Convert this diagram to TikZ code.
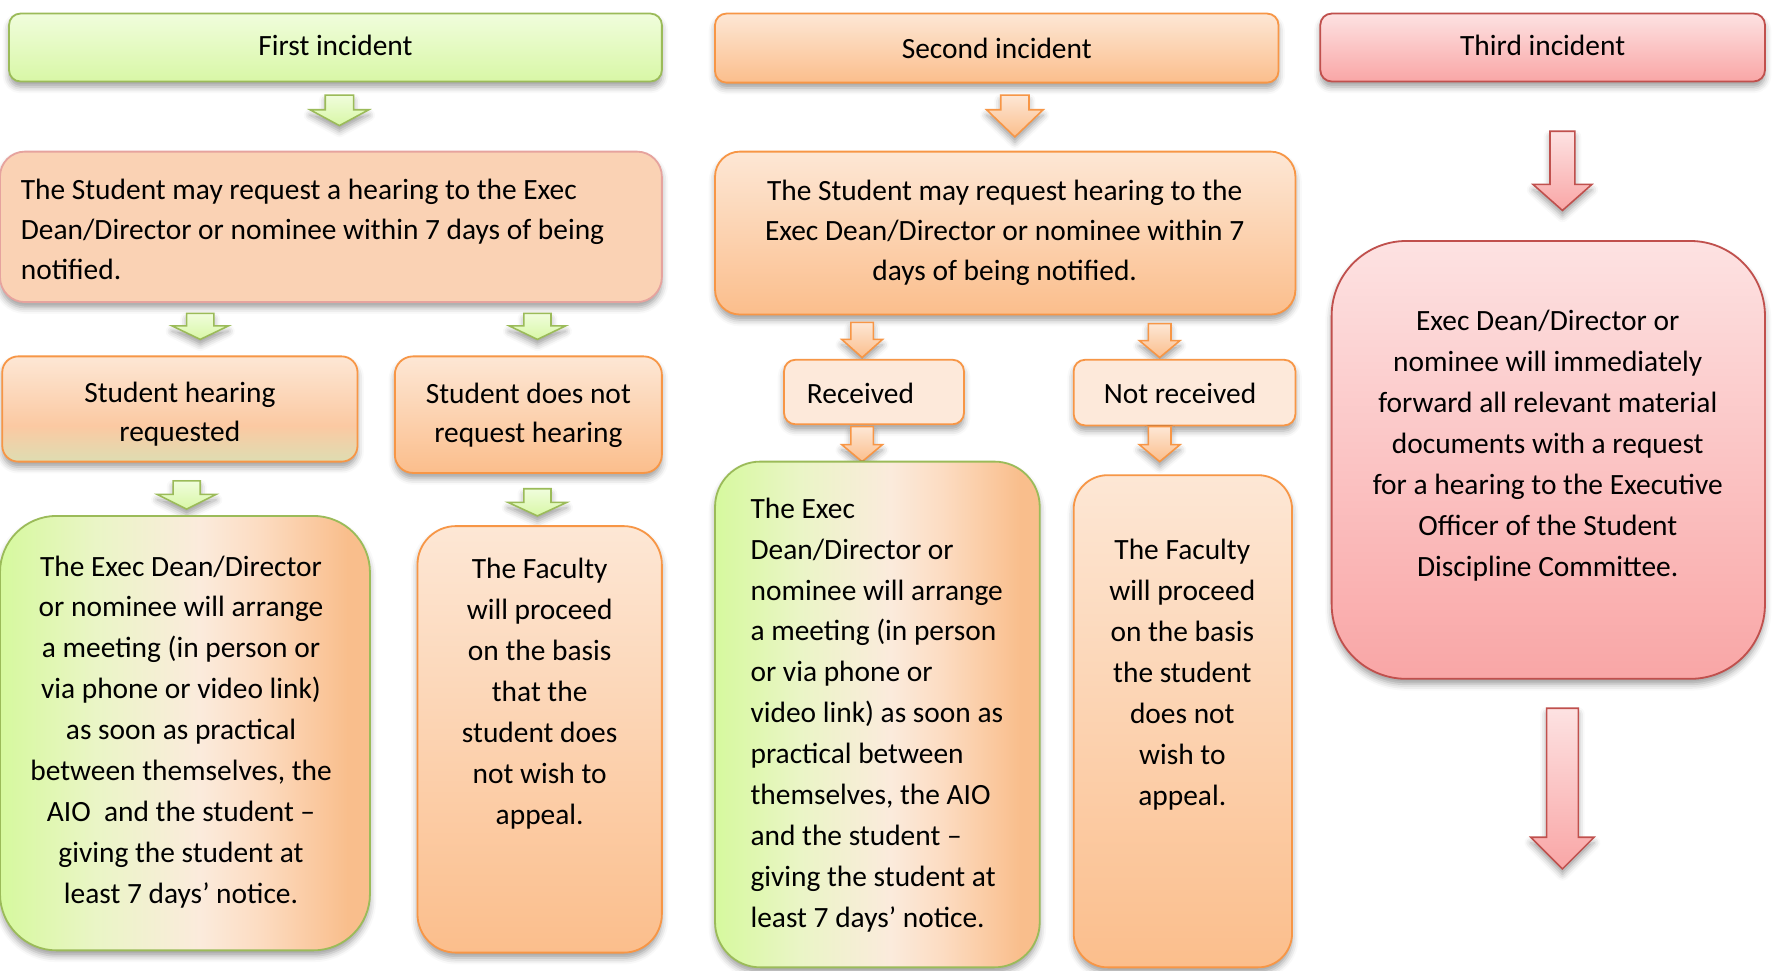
\documentclass[tikz,border=0pt]{standalone}
\usepackage{fontspec}
\setmainfont{Carlito}
\usetikzlibrary{fit,shadows.blur}

% palette
\definecolor{grnLine}{HTML}{9BBB59}
\definecolor{grnTop}{HTML}{F0FDDC}
\definecolor{grnBot}{HTML}{D8F7A6}
\definecolor{ornLine}{HTML}{F79646}
\definecolor{ornTop}{HTML}{FDE7D5}
\definecolor{ornBot}{HTML}{FBBE8C}
\definecolor{ornPale}{HTML}{FDE9DA}
\definecolor{redLine}{HTML}{C0504D}
\definecolor{redTop}{HTML}{FDE2E2}
\definecolor{redBot}{HTML}{F9A6A6}
\definecolor{peach}{HTML}{FAD2B4}
\definecolor{peachLine}{HTML}{E6A39E}
\definecolor{mixGreen}{HTML}{D6F99E}
\definecolor{mixPale}{HTML}{EAF5C6}
\definecolor{mixCream}{HTML}{FBEBDC}
\definecolor{mixPeach}{HTML}{FCDCC2}
\definecolor{mixOrange}{HTML}{F9BE8C}
\definecolor{reqMid}{HTML}{FBC9A2}
\definecolor{reqBot}{HTML}{DEDDB2}

% green-to-orange sweep (fitted between 25bp and 75bp)
\pgfdeclarehorizontalshading{greenorange}{100bp}{%
  color(0bp)=(mixGreen); color(25bp)=(mixGreen); color(38bp)=(mixPale);
  color(52bp)=(mixCream); color(60bp)=(mixPeach); color(72bp)=(mixOrange);
  color(100bp)=(mixOrange)}
% orange fading to a green tint at the bottom
\pgfdeclareverticalshading{reqshade}{100bp}{%
  color(0bp)=(reqBot); color(25bp)=(reqBot); color(42bp)=(reqMid);
  color(75bp)=(ornTop); color(100bp)=(ornTop)}

\tikzset{
  shad/.style={blur shadow={shadow xshift=0pt, shadow yshift=-2.4pt,
      shadow blur radius=2.8pt, shadow opacity=38}},
  box/.style={draw, line width=0.8pt, inner sep=0pt, shad},
  greenhdr/.style={box, draw=grnLine, top color=grnTop, bottom color=grnBot, rounded corners=5pt},
  orangebox/.style={box, draw=ornLine, top color=ornTop, bottom color=ornBot},
  redbox/.style={box, draw=redLine, top color=redTop, bottom color=redBot},
  palebox/.style={box, draw=ornLine, fill=ornPale, rounded corners=5pt},
  peachbox/.style={box, draw=peachLine, fill=peach},
  mixbox/.style={box, draw=grnLine, shading=greenorange},
  reqbox/.style={box, draw=ornLine, shading=reqshade},
  txt/.style={inner sep=0pt, font=\fontsize{13}{17.6}\selectfont},
  tall/.style={inner sep=0pt, font=\fontsize{13}{18.1}\selectfont},
  greenarrow/.style={draw=grnLine, line width=0.7pt, top color=grnTop, bottom color=grnBot, line join=miter, shad},
  orangearrow/.style={draw=ornLine, line width=0.7pt, top color=ornTop, bottom color=ornBot, line join=miter, shad},
  redarrow/.style={draw=redLine, line width=0.7pt, top color=redTop, bottom color=redBot, line join=miter, shad},
}

% block arrow: style, x, top, head start, tip, shaft half width, head half width
\newcommand\blockarrow[7]{%
  \path[#1] (#2-#6,#3) -- (#2+#6,#3) -- (#2+#6,#4) -- (#2+#7,#4) -- (#2,#5)
    -- (#2-#7,#4) -- (#2-#6,#4) -- cycle;}

\begin{document}
\begin{tikzpicture}[x=0.5pt,y=-0.5pt]
\useasboundingbox (0,0) rectangle (1568,858);

% ---------- first incident ----------
\node[greenhdr, fit={(8,12)(585,72)}] (h1) {};
\node[txt] (h1t) at ([yshift=1pt]h1.center) {First incident};
\blockarrow{greenarrow}{300}{84}{97}{111}{12.5}{26}

\node[peachbox, rounded corners=11pt, fit={(0,134)(585,267)}] (f1) {};
\node[txt, align=left, anchor=west] (f1t) at (18,203)
  {The Student may request a hearing to the Exec\\
   Dean/Director or nominee within 7 days of being\\
   notified.};
\blockarrow{greenarrow}{177}{277}{288}{300}{12}{25}
\blockarrow{greenarrow}{475}{277}{288}{300}{12}{25}

\node[reqbox, rounded corners=7pt, fit={(2,315)(316,408)}] (f2) {};
\node[txt, align=center] (f2t) at (159,366) {Student hearing\\requested};
\node[orangebox, rounded corners=8pt, fit={(349,315)(585,418)}] (f3) {};
\node[txt, align=center] (f3t) at (467,367) {Student does not\\request hearing};
\blockarrow{greenarrow}{165}{425}{437}{450}{12}{26}
\blockarrow{greenarrow}{475}{432}{444}{456}{12}{26}

\node[mixbox, rounded corners=25pt, fit={(0,456)(327,840)}] (f4) {};
\node[tall, align=center] (f4t) at (160,647)
  {The Exec Dean/Director\\
   or nominee will arrange\\
   a meeting (in person or\\
   via phone or video link)\\
   as soon as practical\\
   between themselves, the\\
   AIO\ \ and the student –\\
   giving the student at\\
   least 7 days’ notice.};
\node[orangebox, rounded corners=17pt, fit={(369,465)(585,842)}] (f5) {};
\node[tall, align=center] (f5t) at (477,613)
  {The Faculty\\will proceed\\on the basis\\that the\\student does\\not wish to\\appeal.};

% ---------- second incident ----------
\node[orangebox, rounded corners=5pt, fit={(632,12)(1130,73)}] (h2) {};
\node[txt] (h2t) at (h2.center) {Second incident};
\blockarrow{orangearrow}{897}{84}{97}{121}{12.5}{25}

\node[orangebox, rounded corners=11pt, fit={(632,134)(1145,278)}] (s1) {};
\node[txt, align=center] (s1t) at (888,206)
  {The Student may request hearing to the\\
   Exec Dean/Director or nominee within 7\\
   days of being notified.};
\blockarrow{orangearrow}{762}{285}{300}{316}{10}{18}
\blockarrow{orangearrow}{1025}{286}{301}{316}{10}{18}

\node[palebox, fit={(693,318)(852,375)}] (s2) {};
\node[txt] (s2t) at (760.5,348) {Received};
\node[palebox, fit={(949,318)(1145,376)}] (s3) {};
\node[txt] (s3t) at (1043,348) {Not received};
\blockarrow{orangearrow}{762}{377}{393}{408}{10}{18}
\blockarrow{orangearrow}{1025}{377}{393}{408}{10}{18}

\node[mixbox, rounded corners=20pt, fit={(632,408)(919,855)}] (s4) {};
\node[tall, align=left, anchor=west] (s4t) at (663,632)
  {The Exec\\
   Dean/Director or\\
   nominee will arrange\\
   a meeting (in person\\
   or via phone or\\
   video link) as soon as\\
   practical between\\
   themselves, the AIO\\
   and the student –\\
   giving the student at\\
   least 7 days’ notice.};
\node[orangebox, rounded corners=15pt, fit={(949,420)(1142,855)}] (s5) {};
\node[tall, align=center] (s5t) at (1045,596)
  {The Faculty\\will proceed\\on the basis\\the student\\does not\\wish to\\appeal.};

% ---------- third incident ----------
\node[redbox, rounded corners=5pt, fit={(1167,12)(1560,72)}] (h3) {};
\node[txt] (h3t) at ([yshift=1pt]h3.center) {Third incident};
\blockarrow{redarrow}{1381}{116}{163}{186}{11}{26}

\node[redbox, rounded corners=33pt, fit={(1177,213)(1560,600)}] (t1) {};
\node[tall, align=center] (t1t) at (1368,394)
  {Exec Dean/Director or\\
   nominee will immediately\\
   forward all relevant material\\
   documents with a request\\
   for a hearing to the Executive\\
   Officer of the Student\\
   Discipline Committee.};
\blockarrow{redarrow}{1381}{626}{740}{768}{14}{28}
\end{tikzpicture}
\end{document}
